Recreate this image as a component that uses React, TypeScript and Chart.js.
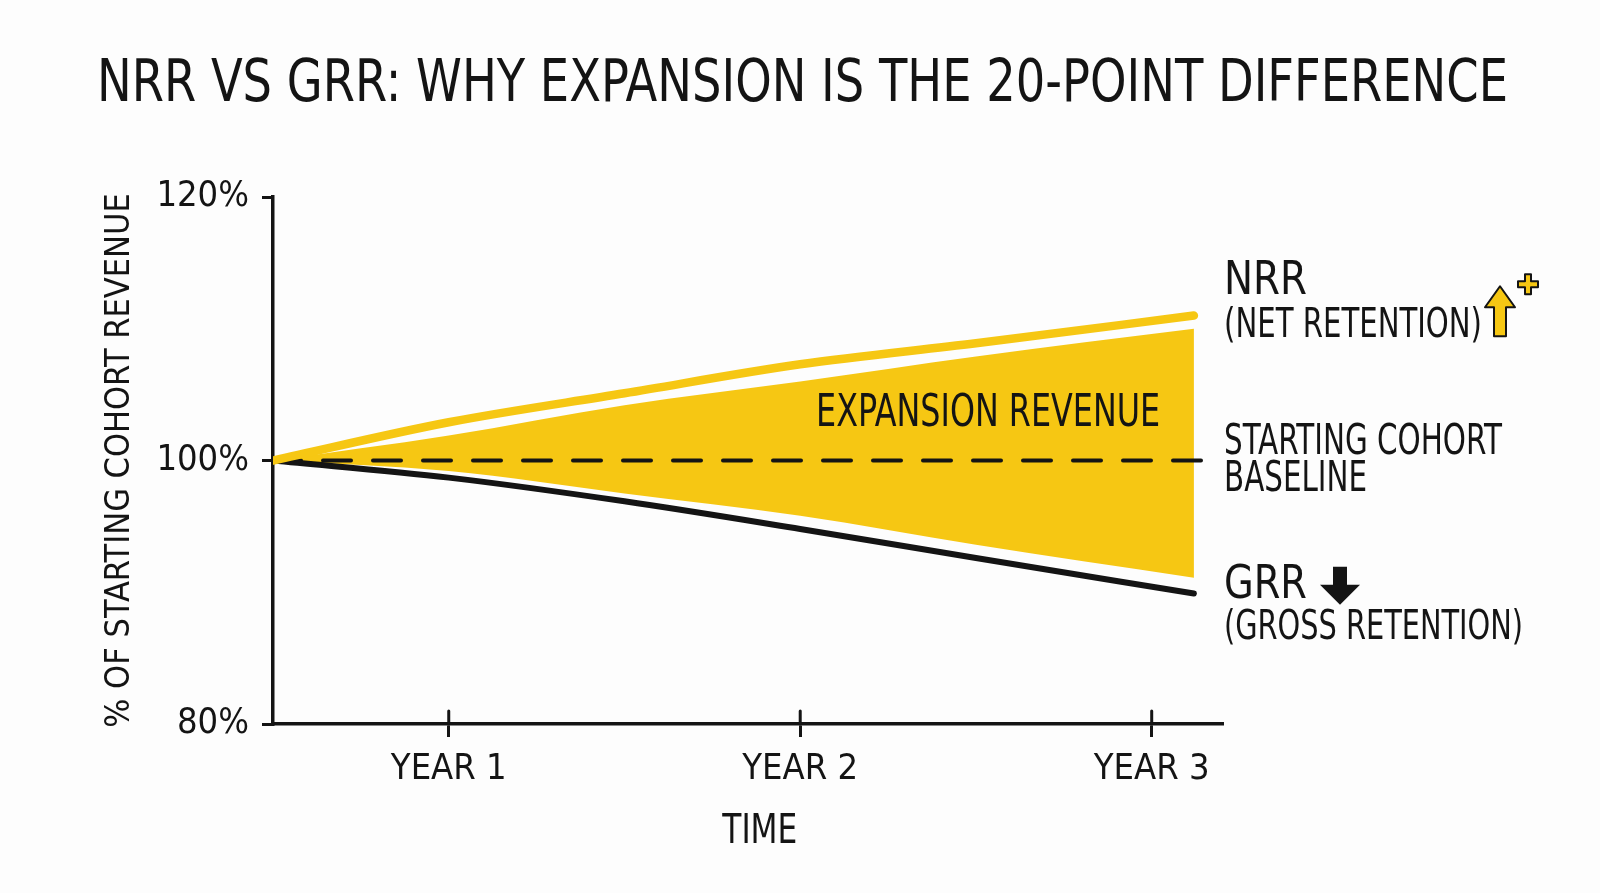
import React, { useEffect, useRef } from "react";
import { Chart, registerables } from "chart.js";

Chart.register(...registerables);

// ---- data ----
const years = [0.5, 1, 1.5, 2, 2.5, 3.12];
const nrrValues = [100, 102.9, 105.1, 107.3, 108.9, 111.0];
const grrValues = [100, 98.7, 96.9, 94.8, 92.6, 89.9];
const expansionTop = [100, 101.9, 104.2, 106.0, 107.9, 110.0];
const expansionBottom = [100, 99.2, 97.5, 95.8, 93.6, 91.1];
const baselineYears = [0.5, 3.17];
const baselineValues = [100, 100];
const yearTicks = [1, 2, 3];
const yearLabels = ["YEAR 1", "YEAR 2", "YEAR 3"];
const percentTicks = [80, 100, 120];

const TITLE = "NRR VS GRR: WHY EXPANSION IS THE 20-POINT DIFFERENCE";
const Y_TITLE = "% OF STARTING COHORT REVENUE";
const X_TITLE = "TIME";

const YELLOW = "#F6C713";
const INK = "#141414";
const FONT = '"Liberation Sans Narrow", "Arial Narrow", "DejaVu Sans Condensed", sans-serif';

const pts = (xs: number[], ys: number[]) => xs.map((x, i) => ({ x, y: ys[i] }));

const crossTicks = {
  id: "crossTicks",
  afterDraw(chart: any) {
    const ctx = chart.ctx;
    const xs = chart.scales.x;
    const bottom = chart.chartArea.bottom;
    ctx.save();
    ctx.strokeStyle = INK;
    ctx.lineWidth = 3;
    ctx.lineCap = "round";
    yearTicks.forEach((v) => {
      const px = xs.getPixelForValue(v);
      ctx.beginPath();
      ctx.moveTo(px, bottom - 13);
      ctx.lineTo(px, bottom);
      ctx.stroke();
    });
    // x axis title, centred where the reference puts it
    ctx.fillStyle = INK;
    ctx.font = `40px ${FONT}`;
    ctx.textAlign = "center";
    ctx.textBaseline = "middle";
    ctx.fillText(X_TITLE, xs.getPixelForValue(1.885), bottom + 109, 75);
    ctx.restore();
  },
};

const annotations = {
  id: "annotations",
  afterDatasetsDraw(chart: any) {
    const ctx = chart.ctx;
    const area = chart.chartArea;
    const ys = chart.scales.y;
    const xs = chart.scales.x;
    ctx.save();
    ctx.fillStyle = INK;
    ctx.textBaseline = "middle";
    ctx.textAlign = "left";

    // expansion revenue label inside the band
    ctx.font = `44px ${FONT}`;
    ctx.fillText("EXPANSION REVENUE", xs.getPixelForValue(2.045), ys.getPixelForValue(103.46), 344);

    const lx = area.right + 2;
    // NRR
    ctx.font = `46px ${FONT}`;
    ctx.fillText("NRR", lx, ys.getPixelForValue(113.57), 83);
    ctx.font = `40px ${FONT}`;
    const netText = "(NET RETENTION)";
    const netY = ys.getPixelForValue(110.19);
    ctx.fillText(netText, lx, netY, 258);
    const netW = Math.min(ctx.measureText(netText).width, 258);

    // yellow up arrow
    const ax = lx + netW + 18;
    const top = netY - 40;
    ctx.beginPath();
    ctx.moveTo(ax, top);
    ctx.lineTo(ax + 15, top + 21);
    ctx.lineTo(ax + 6, top + 21);
    ctx.lineTo(ax + 6, top + 50);
    ctx.lineTo(ax - 6, top + 50);
    ctx.lineTo(ax - 6, top + 21);
    ctx.lineTo(ax - 15, top + 21);
    ctx.closePath();
    ctx.fillStyle = YELLOW;
    ctx.fill();
    ctx.strokeStyle = INK;
    ctx.lineWidth = 2;
    ctx.lineJoin = "round";
    ctx.stroke();
    // plus sign
    const px = ax + 28, py = top - 2;
    ctx.beginPath();
    ctx.moveTo(px - 3, py - 10);
    ctx.lineTo(px + 3, py - 10);
    ctx.lineTo(px + 3, py - 3);
    ctx.lineTo(px + 10, py - 3);
    ctx.lineTo(px + 10, py + 3);
    ctx.lineTo(px + 3, py + 3);
    ctx.lineTo(px + 3, py + 10);
    ctx.lineTo(px - 3, py + 10);
    ctx.lineTo(px - 3, py + 3);
    ctx.lineTo(px - 10, py + 3);
    ctx.lineTo(px - 10, py - 3);
    ctx.lineTo(px - 3, py - 3);
    ctx.closePath();
    ctx.fillStyle = YELLOW;
    ctx.fill();
    ctx.stroke();

    // baseline label
    ctx.fillStyle = INK;
    ctx.font = `42px ${FONT}`;
    ctx.fillText("STARTING COHORT", lx, ys.getPixelForValue(101.33), 278);
    ctx.fillText("BASELINE", lx, ys.getPixelForValue(98.48), 143);

    // GRR
    ctx.font = `47px ${FONT}`;
    const grrY = ys.getPixelForValue(90.49);
    ctx.fillText("GRR", lx, grrY, 83);
    const grrW = Math.min(ctx.measureText("GRR").width, 83);
    ctx.font = `40px ${FONT}`;
    ctx.fillText("(GROSS RETENTION)", lx, ys.getPixelForValue(87.22), 299);

    // black down arrow
    const bx = lx + grrW + 33;
    const bt = grrY - 19;
    ctx.beginPath();
    ctx.moveTo(bx - 7, bt);
    ctx.lineTo(bx + 7, bt);
    ctx.lineTo(bx + 7, bt + 18);
    ctx.lineTo(bx + 20, bt + 18);
    ctx.lineTo(bx, bt + 38);
    ctx.lineTo(bx - 20, bt + 18);
    ctx.lineTo(bx - 7, bt + 18);
    ctx.closePath();
    ctx.fillStyle = INK;
    ctx.fill();
    ctx.restore();
  },
};

export default function App() {
  const ref = useRef<HTMLCanvasElement | null>(null);

  useEffect(() => {
    if (!ref.current) return;
    const chart = new Chart(ref.current, {
      type: "line",
      data: {
        datasets: [
          {
            label: "NRR",
            data: pts(years, nrrValues),
            borderColor: YELLOW,
            borderWidth: 8.5,
            borderCapStyle: "round",
            pointRadius: 0,
            fill: false,
            cubicInterpolationMode: "monotone",
          },
          {
            label: "GRR",
            data: pts(years, grrValues),
            borderColor: INK,
            borderWidth: 6,
            borderCapStyle: "round",
            pointRadius: 0,
            fill: false,
            cubicInterpolationMode: "monotone",
          },
          {
            label: "Baseline",
            data: pts(baselineYears, baselineValues),
            borderColor: INK,
            borderWidth: 4,
            borderDash: [28, 22],
            borderCapStyle: "round",
            pointRadius: 0,
            fill: false,
          },
          {
            label: "Expansion top",
            data: pts(years, expansionTop),
            borderWidth: 0,
            borderColor: "rgba(0,0,0,0)",
            backgroundColor: YELLOW,
            pointRadius: 0,
            fill: "+1",
            cubicInterpolationMode: "monotone",
          },
          {
            label: "Expansion bottom",
            data: pts(years, expansionBottom),
            borderWidth: 0,
            borderColor: "rgba(0,0,0,0)",
            pointRadius: 0,
            fill: false,
            cubicInterpolationMode: "monotone",
          },
        ],
      },
      options: {
        animation: false,
        responsive: true,
        maintainAspectRatio: false,
        layout: { padding: { left: 97, right: 92, top: 0, bottom: 0 } },
        plugins: {
          legend: { display: false },
          tooltip: { enabled: false },
          title: {
            display: true,
            text: TITLE,
            color: INK,
            font: { family: FONT, size: 59, weight: "normal", lineHeight: 1.2 },
            padding: { top: 50, bottom: 76.2 },
          },
        },
        scales: {
          x: {
            type: "linear",
            min: 0.5,
            max: 3.2,
            afterBuildTicks: (scale: any) => {
              scale.ticks = yearTicks.map((v) => ({ value: v }));
            },
            afterFit: (scale: any) => {
              scale.height = 169;
            },
            ticks: {
              color: INK,
              font: { family: FONT, size: 36 },
              padding: 11,
              maxRotation: 0,
              callback: (v: any) => {
                const i = yearTicks.indexOf(Number(v));
                return i >= 0 ? yearLabels[i] : "";
              },
            },
            grid: { drawOnChartArea: false, drawTicks: true, tickLength: 13, color: INK, lineWidth: 3 },
            border: { display: true, color: INK, width: 3.5 },
            title: { display: false, text: X_TITLE },
          },
          y: {
            type: "linear",
            min: 80,
            max: 120,
            afterBuildTicks: (scale: any) => {
              scale.ticks = percentTicks.map((v) => ({ value: v }));
            },
            afterFit: (scale: any) => {
              scale.width = 176;
            },
            ticks: {
              color: INK,
              font: { family: FONT, size: 36 },
              padding: 13,
              callback: (v: any) => `${v}%`,
            },
            grid: { drawOnChartArea: false, drawTicks: true, tickLength: 11, color: INK, lineWidth: 3 },
            border: { display: true, color: INK, width: 3.5 },
            title: {
              display: true,
              text: Y_TITLE,
              color: INK,
              font: { family: FONT, size: 34, lineHeight: 1.2 },
              padding: { top: 3, bottom: 0 },
            },
          },
          yRight: {
            type: "linear",
            position: "right",
            min: 80,
            max: 120,
            display: true,
            afterFit: (scale: any) => {
              scale.width = 286;
            },
            ticks: { display: false },
            grid: { display: false, drawTicks: false },
            border: { display: false },
          },
        },
      },
      plugins: [crossTicks, annotations],
    } as any);
    return () => chart.destroy();
  }, []);

  return (
    <div
      style={{
        position: "absolute",
        left: 0,
        top: 0,
        width: 1600,
        height: 893,
        background: "#FDFDFD",
      }}
    >
      <canvas ref={ref} style={{ display: "block" }} />
    </div>
  );
}
